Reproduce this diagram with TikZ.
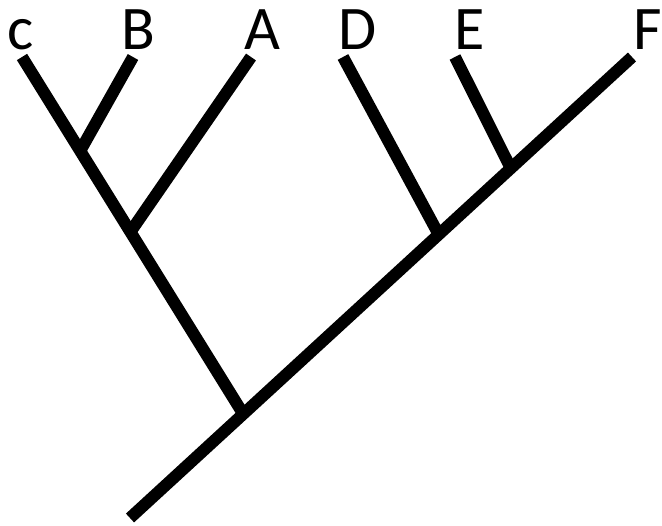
\documentclass[tikz,border=0pt]{standalone}
\usepackage{fontspec}
\setmainfont{Carlito}
\usetikzlibrary{calc}
\begin{document}
\begin{tikzpicture}[x=1pt,y=-1pt,
  branch/.style={line width=12pt, line cap=butt},
  lab/.style={anchor=base, inner sep=0pt, font=\fontsize{62}{62}\selectfont}]
\useasboundingbox (0,0) rectangle (662,526);
% tips
\coordinate (root) at (130,518);
\coordinate (tF) at (632,57);
\coordinate (tC) at (22,57);
\coordinate (tB) at (133,57);
\coordinate (tA) at (251,57);
\coordinate (tD) at (343,57);
\coordinate (tE) at (455,57);
% junctions
\coordinate (j1) at ($(root)!0.2256!(tF)$);
\coordinate (jD) at ($(root)!0.615!(tF)$);
\coordinate (jE) at ($(root)!0.7586!(tF)$);
\coordinate (jB) at ($(tC)!0.263!(j1)$);
\coordinate (jA) at ($(tC)!0.49!(j1)$);
% branches
\draw[branch] (root) -- (tF);
\draw[branch] (j1) -- (tC);
\draw[branch] (jB) -- (tB);
\draw[branch] (jA) -- (tA);
\draw[branch] (jD) -- (tD);
\draw[branch] (jE) -- (tE);
% labels
\node[lab] (lC) at (21,50) {c};
\node[lab] (lB) at (138,50) {B};
\node[lab] (lA) at (262,50) {A};
\node[lab] (lD) at (358,50) {D};
\node[lab] (lE) at (470,50) {E};
\node[lab] (lF) at (648,50) {F};
\end{tikzpicture}
\end{document}
